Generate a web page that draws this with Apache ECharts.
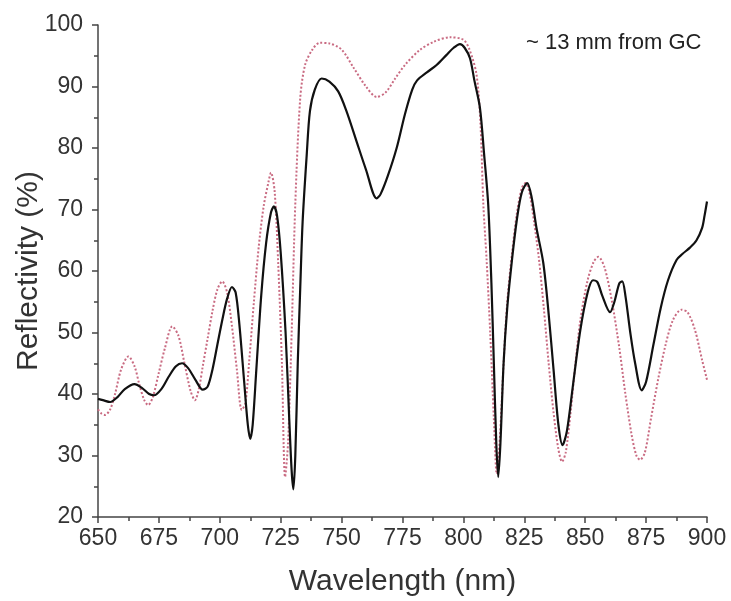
<!DOCTYPE html>
<html>
<head>
<meta charset="utf-8">
<style>
  html, body { margin: 0; padding: 0; background: #fff; }
  #chart { width: 731px; height: 601px; }
</style>
<script src="https://cdn.jsdelivr.net/npm/echarts@6/dist/echarts.min.js"></script>
</head>
<body>
<div id="chart"></div>
<script>
// measured reflectivity (solid black)
const measuredNm = [650, 652, 655, 658, 661, 665, 668, 671, 673, 676, 679, 682, 684.5, 687, 690, 693, 695, 697, 699, 701, 703, 705, 706.5, 708, 710, 711.5, 712.5, 713.5, 715, 717, 719, 721, 722.2, 723.5, 725, 727, 728.5, 729.5, 730.2, 731, 732, 733, 734, 735.7, 737, 739, 741.8, 745, 748.6, 752, 756.2, 760, 764.4, 766, 769, 772.6, 776, 779, 781, 785, 789, 793, 796, 798.6, 800.5, 802.7, 804.5, 806.8, 808.5, 810.2, 811.5, 812.5, 813.5, 814.3, 815.2, 816.5, 818, 820, 822, 824, 826.2, 828, 830, 832.8, 835, 837, 839, 840.7, 842.5, 845, 848, 851, 853.2, 855, 857, 860.2, 862, 864, 865.2, 866.5, 868.5, 870.5, 873.2, 875, 878, 881, 884, 887.5, 890, 893, 895.7, 898, 899, 900];
const measuredR = [39.2, 39.0, 38.7, 39.5, 40.8, 41.6, 41.0, 40.0, 39.8, 40.8, 42.8, 44.5, 45.0, 44.2, 42.3, 40.7, 41.2, 44.0, 48.0, 52.0, 55.5, 57.4, 56.5, 51.5, 42.0, 35.0, 32.7, 35.0, 44.0, 56.0, 64.5, 69.5, 70.5, 69.0, 63.0, 50.0, 36.0, 27.5, 24.5, 30, 45, 57, 68, 79, 86, 89.5, 91.3, 90.8, 89.2, 86, 81, 76.5, 71.8, 72.5, 75.5, 80, 85.5, 89.5, 91, 92.3, 93.5, 95.1, 96.3, 96.9, 96.3, 94.6, 91, 86.5, 79, 70.7, 58, 45, 32, 26.5, 32, 45, 54, 62, 68.5, 72.8, 74.3, 72, 67, 61.3, 53, 44, 35, 31.7, 34, 41.5, 50.4, 56.5, 58.5, 58.2, 56, 53.3, 55, 58, 58.3, 56, 50, 45, 40.6, 42, 48, 54, 58.5, 61.8, 62.8, 63.8, 65, 67, 69, 71.3];

// calculated reflectivity (dotted pink)
const calcNm = [650, 651.5, 652.9, 655, 657, 659.5, 662.5, 665, 667, 669, 670.6, 672.5, 675, 677.5, 680.5, 683, 685.5, 688, 689.8, 691.5, 693, 695, 697, 699, 701, 703, 705, 707, 709, 710.5, 712, 714, 716, 718, 720, 721, 722.5, 724, 725.5, 726.8, 728, 729.5, 731, 733, 735, 738, 741, 745, 750, 755, 760, 764.4, 768, 772, 776, 782, 788, 794.5, 800, 802.5, 805.4, 807, 808.2, 809.5, 811, 812.5, 813.7, 815, 816.5, 818, 820, 822, 824, 825.5, 827, 829, 831, 833, 835, 837, 839, 840.5, 842, 844, 846, 848, 851, 853.5, 855.4, 858, 861, 864, 866.5, 869, 871, 872.5, 874.5, 877, 880, 883, 886, 889.5, 892, 895, 898, 900];
const calcR = [37.5, 36.8, 36.6, 37.5, 40, 44, 46.1, 44.5, 41.5, 39, 38.2, 39.5, 43.5, 47.5, 51, 49.5, 45, 40.5, 39, 41, 44.5, 49, 53.5, 57, 58.3, 56.5, 51, 44, 37.4, 38.5, 45, 55, 64, 70.5, 74.5, 76, 73, 61, 45, 26.5, 32, 50, 71, 88, 93.5, 96, 97.1, 97, 96, 93, 90, 88.3, 89, 91.3, 93.5, 95.9, 97.3, 98, 97.6, 96, 91.9, 84, 70.7, 62, 50, 36, 27, 33, 45, 55, 63, 69.5, 73.5, 74.3, 73, 68, 62, 54, 45, 37, 31, 29, 30.5, 37, 45, 52, 58.5, 61.5, 62.3, 60.5, 55, 47.5, 40, 33.5, 30, 29.3, 30.5, 36, 42.5, 48, 52, 53.7, 53.3, 50.5, 45.5, 42.3];

const xTicks = [650, 900, 25];   // min, max, step
const yTicks = [20, 100, 10];

const zip = (xs, ys) => xs.map((x, i) => [x, ys[i]]);

const chart = echarts.init(document.getElementById('chart'), null, { renderer: 'canvas' });

const FONT = 'Liberation Sans, Arial, sans-serif';
const axisCommon = {
  axisLine: { show: true, onZero: false, lineStyle: { color: '#444', width: 1.5 } },
  axisTick: { show: true, inside: false, length: 6, lineStyle: { color: '#444', width: 1.5 } },
  minorTick: { show: true, splitNumber: 2, length: 4, lineStyle: { color: '#444', width: 1.5 } },
  splitLine: { show: false },
  axisLabel: { color: '#333', fontSize: 23, fontFamily: FONT },
  nameTextStyle: { color: '#333', fontSize: 30, fontFamily: FONT },
  nameMoveOverlap: false
};

chart.setOption({
  animation: false,
  backgroundColor: '#fff',
  grid: { left: 98, right: 24, top: 25, bottom: 84, containLabel: false, outerBoundsMode: 'none' },
  xAxis: Object.assign({}, axisCommon, {
    type: 'value',
    min: xTicks[0], max: xTicks[1], interval: xTicks[2],
    name: 'Wavelength (nm)', nameLocation: 'middle', nameGap: 50,
    axisLabel: Object.assign({}, axisCommon.axisLabel, { margin: 10 })
  }),
  yAxis: Object.assign({}, axisCommon, {
    type: 'value',
    min: yTicks[0], max: yTicks[1], interval: yTicks[2],
    name: 'Reflectivity (%)', nameLocation: 'middle', nameGap: 54, nameRotate: 90,
    axisLabel: Object.assign({}, axisCommon.axisLabel, { margin: 15 })
  }),
  graphic: [{
    type: 'text', left: 526, top: 32,
    style: { text: '~ 13 mm from GC', fill: '#222', fontSize: 22, fontFamily: FONT }
  }],
  series: [
    {
      name: 'calculated', type: 'line', data: zip(calcNm, calcR),
      showSymbol: false, smooth: 0.3, z: 2,
      lineStyle: { color: '#c96b82', width: 2, type: 'dotted' }
    },
    {
      name: 'measured', type: 'line', data: zip(measuredNm, measuredR),
      showSymbol: false, smooth: 0.3, z: 3,
      lineStyle: { color: '#111', width: 2.2 }
    }
  ]
});
</script>
</body>
</html>
